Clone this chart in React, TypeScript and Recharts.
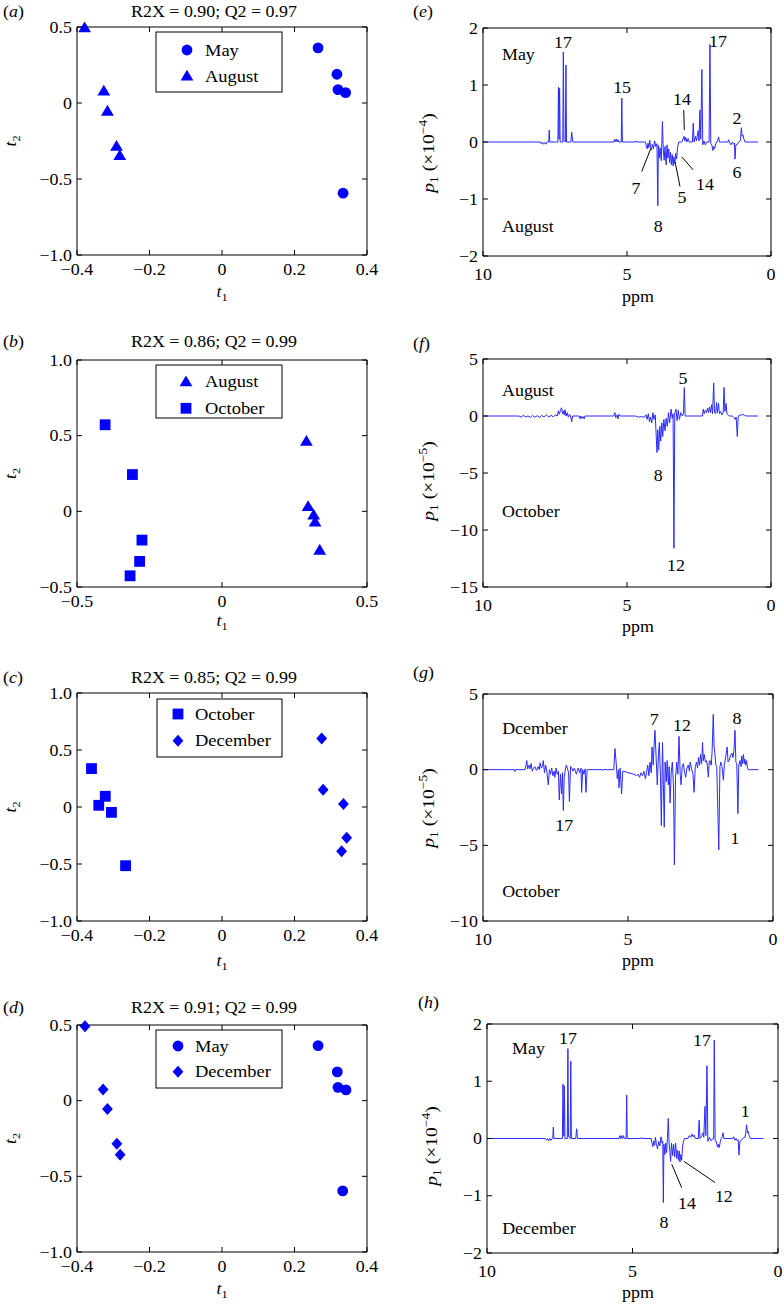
import React from "react";
import {
  ScatterChart,
  Scatter,
  LineChart,
  Line,
  XAxis,
  YAxis,
  ReferenceDot,
  ReferenceLine,
} from "recharts";

const FONT = "'Liberation Serif', 'Times New Roman', serif";
const BLUE = "#0000ff";
const TRACE = "#2a2aff";
const SX = 1.12; // the original lettering is a bit wider than plain Times

// ---- score plots (t1, t2) ----
const aMay = [
  { t1: 0.265, t2: 0.363 },
  { t1: 0.317, t2: 0.189 },
  { t1: 0.32, t2: 0.088 },
  { t1: 0.341, t2: 0.068 },
  { t1: 0.334, t2: -0.593 },
];
const aAugust = [
  { t1: -0.379, t2: 0.495 },
  { t1: -0.326, t2: 0.079 },
  { t1: -0.316, t2: -0.053 },
  { t1: -0.291, t2: -0.284 },
  { t1: -0.282, t2: -0.345 },
];
const bAugust = [
  { t1: 0.291, t2: 0.464 },
  { t1: 0.297, t2: 0.033 },
  { t1: 0.316, t2: -0.024 },
  { t1: 0.321, t2: -0.07 },
  { t1: 0.337, t2: -0.256 },
];
const bOctober = [
  { t1: -0.403, t2: 0.572 },
  { t1: -0.309, t2: 0.243 },
  { t1: -0.276, t2: -0.19 },
  { t1: -0.284, t2: -0.331 },
  { t1: -0.317, t2: -0.426 },
];
const cOctober = [
  { t1: -0.36, t2: 0.337 },
  { t1: -0.34, t2: 0.015 },
  { t1: -0.322, t2: 0.094 },
  { t1: -0.305, t2: -0.047 },
  { t1: -0.266, t2: -0.515 },
];
const cDecember = [
  { t1: 0.275, t2: 0.6 },
  { t1: 0.279, t2: 0.152 },
  { t1: 0.335, t2: 0.026 },
  { t1: 0.344, t2: -0.269 },
  { t1: 0.33, t2: -0.389 },
];
const dMay = [
  { t1: 0.265, t2: 0.364 },
  { t1: 0.318, t2: 0.19 },
  { t1: 0.32, t2: 0.088 },
  { t1: 0.342, t2: 0.071 },
  { t1: 0.333, t2: -0.596 },
];
const dDecember = [
  { t1: -0.378, t2: 0.492 },
  { t1: -0.328, t2: 0.073 },
  { t1: -0.316, t2: -0.055 },
  { t1: -0.29, t2: -0.285 },
  { t1: -0.281, t2: -0.358 },
];

const titles = [
  "R2X = 0.90; Q2 = 0.97",
  "R2X = 0.86; Q2 = 0.99",
  "R2X = 0.85; Q2 = 0.99",
  "R2X = 0.91; Q2 = 0.99",
];

// ---- loading spectra: [ppm, p1] ----
type Pt = [number, number];

const specE: Pt[] = [
  [10, 0], [8.02, 0], [7.98, -0.03], [7.94, 0], [7.9, -0.04], [7.86, -0.01], [7.82, -0.04], [7.78, 0],
  [7.72, 0], [7.7, 0.21], [7.68, 0],
  [7.4, 0], [7.38, 0.96], [7.36, 0.05], [7.34, 0.94], [7.32, 0],
  [7.23, 0], [7.21, 1.58], [7.19, 0.03], [7.14, 0], [7.12, 1.35], [7.1, 0],
  [6.95, 0], [6.92, 0.17], [6.88, 0],
  [5.46, 0], [5.43, 0.05], [5.4, 0], [5.37, 0.05], [5.34, 0], [5.31, 0.04], [5.28, 0],
  [5.2, 0], [5.18, 0.77], [5.16, 0],
  [4.7, 0], [4.68, 0.02], [4.66, 0],
  [4.36, 0], [4.33, -0.07], [4.3, -0.12], [4.27, -0.02], [4.24, -0.1], [4.21, 0.03], [4.18, -0.08],
  [4.15, -0.14], [4.12, -0.04], [4.08, -0.12], [4.04, 0.02], [4.0, -0.08], [3.96, -0.03],
  [3.93, -1.12], [3.91, -0.06], [3.88, -0.28], [3.85, -0.1], [3.81, -0.33], [3.77, 0.36], [3.74, -0.12],
  [3.71, -0.32], [3.68, -0.08], [3.64, -0.4], [3.61, -0.05], [3.58, -0.28], [3.55, -0.12], [3.52, -0.36],
  [3.49, -0.18], [3.46, -0.4], [3.43, -0.22], [3.4, -0.42], [3.37, -0.26], [3.34, -0.38], [3.31, -0.2],
  [3.28, -0.3], [3.24, -0.08], [3.2, 0],
  [3.1, 0], [3.07, 0.03], [3.02, 0.1], [2.99, 0.02], [2.96, 0.08], [2.92, 0], [2.88, 0.06], [2.84, 0],
  [2.73, 0], [2.7, 0.33], [2.67, 0], [2.62, 0.1], [2.59, 0.02], [2.53, 0.2], [2.5, 0.02], [2.47, 0.56],
  [2.44, 0.05], [2.4, 1.27], [2.37, -0.05], [2.33, 0.02], [2.28, -0.05], [2.24, 0], [2.15, 0],
  [2.12, 1.71], [2.09, -0.03], [2.05, -0.06], [2.02, -0.15], [1.99, -0.08], [1.96, -0.12], [1.92, -0.03],
  [1.88, 0], [1.85, 0.02], [1.82, 0.09], [1.79, 0],
  [1.5, 0], [1.47, 0.04], [1.43, -0.02], [1.39, -0.05], [1.34, 0], [1.3, -0.04], [1.27, -0.02],
  [1.25, -0.3], [1.22, -0.05], [1.17, -0.04], [1.12, 0], [1.06, 0.02], [1.03, 0.25], [1.0, 0.1],
  [0.97, 0.12], [0.94, 0.05], [0.9, 0], [0.45, 0],
];

const specF: Pt[] = [
  [10, 0], [8.75, 0], [8.68, -0.1], [8.6, 0.05], [8.52, -0.08], [8.44, 0], [8.36, -0.12], [8.28, 0.04],
  [8.2, -0.1], [8.12, 0.02], [8.04, -0.12], [7.96, 0.05], [7.88, -0.08], [7.8, 0.1], [7.72, -0.1],
  [7.64, 0.05], [7.56, -0.06], [7.48, 0.08], [7.42, 0],
  [7.38, 0.45], [7.35, 0.15], [7.31, 0.5], [7.27, 0.72], [7.24, 0.2], [7.21, 0.45], [7.18, 0.1],
  [7.15, 0.55], [7.12, 0], [7.08, 0.3], [7.04, -0.1], [7.0, 0.15], [6.96, 0], [6.92, -0.5], [6.89, 0],
  [6.66, 0], [6.63, -0.25], [6.6, 0], [6.56, -0.2], [6.52, -0.05], [6.49, -0.25], [6.46, 0],
  [5.46, 0], [5.42, 0.3], [5.39, -0.15], [5.35, 0.1], [5.31, -0.25], [5.28, 0.15], [5.24, 0],
  [4.7, 0], [4.6, -0.1], [4.5, -0.05], [4.4, -0.12], [4.34, 0.1], [4.3, -0.3], [4.26, 0.2], [4.22, -0.5],
  [4.18, -0.1], [4.14, -0.6], [4.1, 0.3], [4.06, -0.3], [4.02, 0.1],
  [3.99, -1.5], [3.96, -3.2], [3.93, -1.2], [3.9, -3.0], [3.86, -0.9], [3.83, -2.2], [3.79, -0.6],
  [3.76, -1.8], [3.72, -0.3], [3.68, -1.3], [3.64, -0.2], [3.6, -0.9], [3.56, 0.3], [3.52, -0.6],
  [3.47, 0.6], [3.43, -0.2], [3.4, 0.2],
  [3.37, -11.6], [3.34, 0.3], [3.3, 0.6], [3.26, -0.4], [3.22, 0.5], [3.18, -0.3], [3.13, 0.3], [3.08, 0],
  [3.04, 0.2], [3.01, 2.5], [2.98, 0],
  [2.38, 0], [2.35, 0.6], [2.32, 0.2], [2.28, 0.5], [2.24, 0.3], [2.2, 0.7], [2.17, 0.3], [2.13, 0.8],
  [2.1, 0.3], [2.06, 1.0], [2.03, 0.2], [1.99, 2.9], [1.96, 0.3], [1.92, 0.2], [1.89, 1.2], [1.86, 0.3],
  [1.82, 1.1], [1.79, 0.2], [1.75, 0.4], [1.7, 0.1], [1.66, 0.3], [1.63, 2.5], [1.6, 0.4], [1.56, 1.1],
  [1.53, 0.2], [1.49, 0.1], [1.45, 0],
  [1.35, 0], [1.3, -0.1], [1.25, -0.3], [1.21, -0.1], [1.17, -1.8], [1.14, -0.1], [1.1, 0.1],
  [1.05, 0.05], [0.98, 0.15], [0.92, 0.05], [0.86, 0], [0.45, 0],
];

const specG: Pt[] = [
  [10, 0], [9.2, 0], [8.92, 0], [8.9, -0.12], [8.88, 0], [8.55, 0], [8.49, 0.6], [8.46, 0.05],
  [8.42, 0.3], [8.38, 0.05], [8.34, 0.4], [8.3, -0.1], [8.26, 0.1], [8.21, 0.2], [8.16, -0.05],
  [8.1, 0.2], [8.06, 0], [8.03, 0.45], [7.99, 0.1], [7.95, 0.2], [7.92, 0.6], [7.88, -0.2], [7.84, 0.3],
  [7.8, -0.1], [7.75, -1.0], [7.71, 0], [7.67, -0.3], [7.63, 0.1], [7.59, -0.4], [7.55, -0.1],
  [7.52, -0.5], [7.48, 0.1], [7.44, -0.3], [7.4, -0.1], [7.37, -2.0], [7.33, -0.3], [7.29, -1.6],
  [7.26, -0.2], [7.23, -2.7], [7.2, -0.5], [7.17, -0.1], [7.13, 0.3], [7.09, 0.1], [7.05, -0.2],
  [7.02, -2.1], [6.98, 0.2], [6.94, 0.1], [6.9, -0.1], [6.85, 0.1], [6.78, -0.3], [6.72, 0.1],
  [6.66, -0.2], [6.62, 0.1], [6.6, -1.5], [6.56, 0], [6.52, -0.3], [6.48, 0.05], [6.45, -1.5],
  [6.41, 0], [6.37, 0],
  [5.9, 0], [5.88, -0.05], [5.86, 0], [5.49, 0],
  [5.45, 1.4], [5.41, 0.5], [5.37, -0.6], [5.33, 0], [5.31, -1.2], [5.27, 0.1], [5.22, -1.6], [5.18, -0.1],
  [5.14, -0.1], [5.0, -0.2], [4.9, -0.25], [4.8, -0.3], [4.7, -0.4], [4.65, -0.3], [4.6, -0.5],
  [4.55, -0.2], [4.5, -0.4], [4.45, -0.1], [4.4, -0.6], [4.36, -0.2], [4.32, 0.3], [4.28, -0.4],
  [4.24, 0.5], [4.2, -0.2], [4.17, 1.5], [4.13, 0.3], [4.1, 1.6], [4.07, 2.6], [4.03, 0.8], [3.99, -1.0],
  [3.95, 1.0], [3.92, 1.8], [3.88, -0.5], [3.85, -3.7], [3.81, 1.8], [3.78, -1.0], [3.75, -3.8],
  [3.72, 0.5], [3.68, -0.8], [3.65, 0.6], [3.61, -1.0], [3.58, 0.2], [3.55, -2.2], [3.51, -0.2],
  [3.47, 0.5], [3.43, -1.2], [3.4, -6.3], [3.36, -0.5], [3.32, 0.5], [3.28, -0.3], [3.24, 2.2],
  [3.2, -0.3], [3.17, -1.0], [3.13, 0.2], [3.09, 0.4], [3.05, -0.2], [3.01, -0.5], [2.97, 0.1],
  [2.92, 0.3], [2.88, -0.1], [2.86, 0.5], [2.82, 0.2], [2.8, 0], [2.76, -0.3], [2.72, -1.5], [2.68, 0.2],
  [2.64, 0.5], [2.6, 0.1], [2.57, 0.8], [2.53, 0.3], [2.5, 1.0], [2.46, 0.4], [2.43, 1.8], [2.4, 0.6],
  [2.37, 1.0], [2.33, 0.5], [2.29, 0.6], [2.26, 0.2], [2.23, -0.5], [2.2, 0.5], [2.17, 0.6], [2.13, 0.3],
  [2.1, 1.2], [2.06, 3.65], [2.03, 1.5], [2.0, 1.0], [1.97, 0.3], [1.94, 0.2], [1.87, -5.3], [1.83, 0.2],
  [1.8, 0.5], [1.76, 0.2], [1.71, -0.7], [1.68, 0.3], [1.66, 0.5], [1.62, 1.0], [1.58, 1.5], [1.55, 0.5],
  [1.51, 0.6], [1.47, 0.9], [1.42, 1.1], [1.38, 0.8], [1.35, 1.2], [1.31, 2.6], [1.28, 0.5], [1.25, 0.4],
  [1.21, -2.9], [1.18, 0.3], [1.14, 0.6], [1.1, 0.2], [1.08, 0.9], [1.05, 0.4], [1.02, 1.0], [0.99, 0.4],
  [0.97, 0.7], [0.94, 0.3], [0.91, 0.6], [0.88, 0.1], [0.85, 0], [0.5, 0],
];

const specH: Pt[] = [
  [10, 0], [8.0, 0], [7.96, -0.03], [7.92, 0], [7.88, -0.04], [7.84, 0], [7.8, -0.03], [7.76, 0],
  [7.74, 0], [7.72, 0.2], [7.7, 0],
  [7.41, 0], [7.39, 0.95], [7.36, 0.04], [7.34, 0.92], [7.32, 0],
  [7.24, 0], [7.22, 1.57], [7.2, 0.03], [7.14, 0], [7.12, 1.35], [7.1, 0],
  [6.95, 0], [6.92, 0.17], [6.89, 0],
  [5.46, 0], [5.43, 0.05], [5.4, 0], [5.37, 0.05], [5.34, 0], [5.31, 0.05], [5.28, 0],
  [5.22, 0], [5.2, 0.76], [5.18, 0],
  [4.71, 0], [4.69, 0.02], [4.67, 0],
  [4.36, 0], [4.33, -0.08], [4.3, -0.14], [4.27, -0.04], [4.24, -0.12], [4.21, 0.02], [4.18, -0.1],
  [4.14, -0.18], [4.1, -0.05], [4.06, -0.13], [4.02, 0.03], [3.98, -0.08],
  [3.96, -0.05], [3.94, -1.12], [3.92, -0.1], [3.89, -0.28], [3.86, -0.08], [3.83, -0.25], [3.8, 0.0],
  [3.77, 0.35], [3.74, -0.1], [3.72, -0.2], [3.69, -0.4], [3.66, -0.08], [3.62, -0.3], [3.59, -0.1],
  [3.55, -0.32], [3.52, -0.08], [3.48, -0.35], [3.45, -0.2], [3.42, -0.38], [3.39, -0.22], [3.37, -0.41],
  [3.34, -0.28], [3.31, -0.38], [3.28, -0.15], [3.25, -0.05], [3.21, 0],
  [3.1, 0], [3.05, 0.05], [3.0, 0.02], [2.96, 0.08], [2.92, 0.03], [2.88, 0.06], [2.84, 0],
  [2.74, 0], [2.71, 0.32], [2.68, 0], [2.62, 0.05], [2.58, 0.1], [2.55, 0.02], [2.51, 0.56], [2.48, 0.05],
  [2.44, 1.27], [2.41, -0.05], [2.36, 0.02], [2.3, -0.04], [2.24, 0], [2.21, 0],
  [2.19, 1.72], [2.16, -0.04], [2.12, -0.05], [2.08, -0.15], [2.05, -0.1], [2.02, -0.16], [1.98, -0.05],
  [1.95, 0], [1.92, 0.03], [1.89, 0.1], [1.86, 0],
  [1.55, 0], [1.52, 0.03], [1.48, -0.03], [1.44, 0], [1.4, -0.04], [1.37, -0.02], [1.34, -0.29],
  [1.31, -0.05], [1.27, -0.04], [1.22, 0], [1.14, 0.02], [1.11, 0.08], [1.08, 0.24], [1.05, 0.1],
  [1.02, 0.12], [0.99, 0.05], [0.95, 0], [0.5, 0],
];

// peak annotations
type Note = { ppm: number; v: number; text: string; start?: boolean };
const notesE: Note[] = [
  { ppm: 9.34, v: 1.53, text: "May", start: true },
  { ppm: 9.34, v: -1.49, text: "August", start: true },
  { ppm: 7.22, v: 1.74, text: "17" },
  { ppm: 5.17, v: 0.95, text: "15" },
  { ppm: 1.84, v: 1.77, text: "17" },
  { ppm: 3.09, v: 0.75, text: "14" },
  { ppm: 1.18, v: 0.42, text: "2" },
  { ppm: 4.69, v: -0.81, text: "7" },
  { ppm: 3.09, v: -0.98, text: "5" },
  { ppm: 2.29, v: -0.75, text: "14" },
  { ppm: 1.18, v: -0.54, text: "6" },
  { ppm: 3.92, v: -1.49, text: "8" },
];
const notesF: Note[] = [
  { ppm: 9.34, v: 2.25, text: "August", start: true },
  { ppm: 9.34, v: -8.4, text: "October", start: true },
  { ppm: 3.06, v: 3.3, text: "5" },
  { ppm: 3.92, v: -5.2, text: "8" },
  { ppm: 3.3, v: -13.1, text: "12" },
];
const notesG: Note[] = [
  { ppm: 9.34, v: 2.73, text: "Dcember", start: true },
  { ppm: 9.34, v: -8.04, text: "October", start: true },
  { ppm: 4.1, v: 3.32, text: "7" },
  { ppm: 3.14, v: 2.93, text: "12" },
  { ppm: 1.24, v: 3.39, text: "8" },
  { ppm: 7.2, v: -3.67, text: "17" },
  { ppm: 1.31, v: -4.54, text: "1" },
];
const notesH: Note[] = [
  { ppm: 9.14, v: 1.57, text: "May", start: true },
  { ppm: 9.48, v: -1.58, text: "December", start: true },
  { ppm: 7.22, v: 1.74, text: "17" },
  { ppm: 2.61, v: 1.71, text: "17" },
  { ppm: 1.13, v: 0.48, text: "1" },
  { ppm: 3.13, v: -1.14, text: "14" },
  { ppm: 1.86, v: -1.02, text: "12" },
  { ppm: 3.92, v: -1.47, text: "8" },
];

// leader lines: [ppm1, p1, ppm2, p2]
const leadE = [
  [3.03, 0.56, 3.01, 0.21],
  [4.49, -0.52, 4.17, -0.11],
  [3.16, -0.78, 3.33, -0.35],
  [2.7, -0.49, 3.1, -0.26],
];
const leadH = [
  [3.31, -0.86, 3.65, -0.45],
  [2.16, -0.77, 3.23, -0.4],
];

function fmt(v: number, dec: number) {
  if (v === 0) return "0";
  const s = Math.abs(v).toFixed(dec);
  return v < 0 ? "\u2212" + s : s;
}

function SText({ x, y, anchor = "middle", size = 16, children }: any) {
  return (
    <text
      transform={`translate(${x},${y}) scale(${SX},1)`}
      textAnchor={anchor}
      fontFamily={FONT}
      fontSize={size}
      fill="#000"
    >
      {children}
    </text>
  );
}

function Marker({ kind, cx, cy }: { kind: string; cx: number; cy: number }) {
  if (kind === "circle") return <circle cx={cx} cy={cy} r={5.4} fill={BLUE} />;
  if (kind === "triangle")
    return (
      <polygon
        points={`${cx},${cy - 6.2} ${cx + 6.4},${cy + 4.6} ${cx - 6.4},${cy + 4.6}`}
        fill={BLUE}
      />
    );
  if (kind === "square")
    return <rect x={cx - 5.4} y={cy - 5.4} width={10.8} height={10.8} fill={BLUE} />;
  return (
    <polygon
      points={`${cx},${cy - 6} ${cx + 5.4},${cy} ${cx},${cy + 6} ${cx - 5.4},${cy}`}
      fill={BLUE}
    />
  );
}

// ticks point inward, MATLAB style
function BottomTick(props: any) {
  const { x, y, payload, decimals, labelDy } = props;
  return (
    <g>
      <line x1={x} x2={x} y1={y} y2={y - 5} stroke="#000" />
      <SText x={x} y={y + labelDy}>{fmt(payload.value, decimals)}</SText>
    </g>
  );
}
function TopTick(props: any) {
  const { x, y } = props;
  return <line x1={x} x2={x} y1={y} y2={y + 5} stroke="#000" />;
}
function LeftTick(props: any) {
  const { x, y, payload, decimals } = props;
  return (
    <g>
      <line x1={x} x2={x + 5} y1={y} y2={y} stroke="#000" />
      <SText x={x - 5} y={y + 5.5} anchor="end">{fmt(payload.value, decimals)}</SText>
    </g>
  );
}
function RightTick(props: any) {
  const { x, y } = props;
  return <line x1={x} x2={x - 5} y1={y} y2={y} stroke="#000" />;
}

// axes are 1px thick (a 0px axis is not drawn), margins below are reduced by that 1px
const axisBase = {
  type: "number" as const,
  tickSize: 0,
  tickMargin: 0,
  tickLine: false,
  interval: 0 as const,
  axisLine: { stroke: "#000" },
};

const leftPanels = [
  {
    id: "a", top: 0, mt: 27, mb: 65, title: titles[0], titleY: 16.7, t1Y: 297,
    xDomain: [-0.4, 0.4], xTicks: [-0.4, -0.2, 0, 0.2, 0.4],
    yDomain: [-1, 0.5], yTicks: [-1, -0.5, 0, 0.5],
    series: [
      { name: "May", kind: "circle", data: aMay },
      { name: "August", kind: "triangle", data: aAugust },
    ],
    legend: { x: 156, y: 32, w: 126, h: 60, r1: 18, r2: 44, mx: 31, tx: 49 },
  },
  {
    id: "b", top: 320, mt: 40, mb: 53, title: titles[1], titleY: 346.7, t1Y: 626,
    xDomain: [-0.5, 0.5], xTicks: [-0.5, 0, 0.5],
    yDomain: [-0.5, 1], yTicks: [-0.5, 0, 0.5, 1],
    series: [
      { name: "August", kind: "triangle", data: bAugust },
      { name: "October", kind: "square", data: bOctober },
    ],
    legend: { x: 156, y: 365, w: 126, h: 53, r1: 16.7, r2: 43.3, mx: 30, tx: 49 },
  },
  {
    id: "c", top: 650, mt: 43, mb: 49, title: titles[2], titleY: 682.7, t1Y: 966,
    xDomain: [-0.4, 0.4], xTicks: [-0.4, -0.2, 0, 0.2, 0.4],
    yDomain: [-1, 1], yTicks: [-1, -0.5, 0, 0.5, 1],
    series: [
      { name: "October", kind: "square", data: cOctober },
      { name: "December", kind: "diamond", data: cDecember },
    ],
    legend: { x: 157, y: 699, w: 125, h: 58, r1: 15, r2: 41.7, mx: 21, tx: 38 },
  },
  {
    id: "d", top: 986, mt: 39, mb: 54, title: titles[3], titleY: 1012.7, t1Y: 1294,
    xDomain: [-0.4, 0.4], xTicks: [-0.4, -0.2, 0, 0.2, 0.4],
    yDomain: [-1, 0.5], yTicks: [-1, -0.5, 0, 0.5],
    series: [
      { name: "May", kind: "circle", data: dMay },
      { name: "December", kind: "diamond", data: dDecember },
    ],
    legend: { x: 156, y: 1030, w: 126, h: 58, r1: 16, r2: 41.7, mx: 22, tx: 39 },
  },
];

const rightPanels = [
  {
    id: "e", top: 0, ml: 91, mr: 13, mt: 28, mb: 64, yDomain: [-2, 2], yTicks: [-2, -1, 0, 1, 2],
    data: specE, notes: notesE, leaders: leadE, exp: "\u22124",
    letterX: 413, letterY: 17, ppmY: 301.5, pX: 434, pY: 153,
  },
  {
    id: "f", top: 320, ml: 91, mr: 13, mt: 39, mb: 53, yDomain: [-15, 5], yTicks: [-15, -10, -5, 0, 5],
    data: specF, notes: notesF, leaders: [], exp: "\u22125",
    letterX: 413, letterY: 349, ppmY: 631.5, pX: 434, pY: 481,
  },
  {
    id: "g", top: 650, ml: 91, mr: 11, mt: 44, mb: 49, yDomain: [-10, 5], yTicks: [-10, -5, 0, 5],
    data: specG, notes: notesG, leaders: [], exp: "\u22125",
    letterX: 413, letterY: 678, ppmY: 966, pX: 434, pY: 808,
  },
  {
    id: "h", top: 986, ml: 95, mr: 6, mt: 38, mb: 53, yDomain: [-2, 2], yTicks: [-2, -1, 0, 1, 2],
    data: specH, notes: notesH, leaders: leadH, exp: "\u22124",
    letterX: 418, letterY: 1008, ppmY: 1298, pX: 437, pY: 1146,
  },
];

function ScorePanel({ p }: { p: (typeof leftPanels)[number] }) {
  const dec = 1;
  return (
    <div style={{ position: "absolute", left: 0, top: p.top }}>
      <ScatterChart width={392} height={320}
        margin={{ top: p.mt - 1, bottom: p.mb - 1, left: 76, right: 24 }}>
        <XAxis {...axisBase} xAxisId="b" dataKey="t1" domain={p.xDomain} ticks={p.xTicks} height={1}
          tick={<BottomTick decimals={dec} labelDy={20} />} />
        <XAxis {...axisBase} xAxisId="t" orientation="top" dataKey="t1" domain={p.xDomain} ticks={p.xTicks}
          height={1} allowDataOverflow tick={<TopTick />} />
        <YAxis {...axisBase} yAxisId="l" dataKey="t2" domain={p.yDomain} ticks={p.yTicks} width={1}
          tick={<LeftTick decimals={dec} />} />
        <YAxis {...axisBase} yAxisId="r" orientation="right" dataKey="t2" domain={p.yDomain} ticks={p.yTicks}
          width={1} allowDataOverflow tick={<RightTick />} />
        {p.series.map((s) => (
          <Scatter
            key={s.name}
            name={s.name}
            xAxisId="b"
            yAxisId="l"
            data={s.data}
            isAnimationActive={false}
            shape={(sp: any) => <Marker kind={s.kind} cx={sp.cx} cy={sp.cy} />}
          />
        ))}
      </ScatterChart>
    </div>
  );
}

function LoadingPanel({ p }: { p: (typeof rightPanels)[number] }) {
  const rows = p.data.map(([ppm, v]) => ({ ppm, v }));
  return (
    <div style={{ position: "absolute", left: 392, top: p.top }}>
      <LineChart width={392} height={320} data={rows}
        margin={{ top: p.mt - 1, bottom: p.mb - 1, left: p.ml - 1, right: p.mr - 1 }}>
        <XAxis {...axisBase} xAxisId="b" dataKey="ppm" domain={[0, 10]} ticks={[0, 5, 10]} reversed
          height={1} tick={<BottomTick decimals={0} labelDy={23.5} />} />
        <XAxis {...axisBase} xAxisId="t" orientation="top" dataKey="ppm" domain={[0, 10]} ticks={[0, 5, 10]}
          reversed height={1} allowDataOverflow tick={<TopTick />} />
        <YAxis {...axisBase} yAxisId="l" dataKey="v" domain={p.yDomain} ticks={p.yTicks} width={1}
          tick={<LeftTick decimals={0} />} />
        <YAxis {...axisBase} yAxisId="r" orientation="right" dataKey="v" domain={p.yDomain} ticks={p.yTicks}
          width={1} allowDataOverflow tick={<RightTick />} />
        <Line xAxisId="b" yAxisId="l" dataKey="v" stroke={TRACE} strokeWidth={1} dot={false}
          isAnimationActive={false} />
        {p.leaders.map((l, i) => (
          <ReferenceLine key={"l" + i} xAxisId="b" yAxisId="l" stroke="#000" strokeWidth={1}
            segment={[{ x: l[0], y: l[1] }, { x: l[2], y: l[3] }]} />
        ))}
        {p.notes.map((n, i) => (
          <ReferenceDot key={"n" + i} xAxisId="b" yAxisId="l" x={n.ppm} y={n.v} r={0}
            shape={(sp: any) => (
              <SText x={sp.cx} y={sp.cy + 5.5} anchor={n.start ? "start" : "middle"}>{n.text}</SText>
            )} />
        ))}
      </LineChart>
    </div>
  );
}

export default function App() {
  return (
    <div style={{ position: "absolute", left: 0, top: 0, width: 784, height: 1306, background: "#fff", overflow: "hidden" }}>
      {leftPanels.map((p) => <ScorePanel key={p.id} p={p} />)}
      {rightPanels.map((p) => <LoadingPanel key={p.id} p={p} />)}
      <svg width={784} height={1306} style={{ position: "absolute", left: 0, top: 0, pointerEvents: "none" }}>
        {leftPanels.map((p) => {
          const plotMid = p.top + p.mt + (320 - p.mt - p.mb) / 2;
          const lg = p.legend;
          return (
            <g key={p.id}>
              <SText x={3} y={p.titleY} anchor="start">
                (<tspan fontStyle="italic">{p.id}</tspan>)
              </SText>
              <SText x={214} y={p.titleY}>{p.title}</SText>
              <SText x={222} y={p.t1Y}>
                <tspan fontStyle="italic">t</tspan>
                <tspan fontSize={11} dy={4}>1</tspan>
              </SText>
              <text transform={`translate(16,${plotMid}) rotate(-90) scale(${SX},1)`} textAnchor="middle"
                fontFamily={FONT} fontSize={16}>
                <tspan fontStyle="italic">t</tspan>
                <tspan fontSize={11} dy={4}>2</tspan>
              </text>
              <rect x={lg.x} y={lg.y} width={lg.w} height={lg.h} fill="#fff" stroke="#000" strokeWidth={1} />
              {p.series.map((s, i) => {
                const ry = lg.y + (i === 0 ? lg.r1 : lg.r2);
                return (
                  <g key={s.name}>
                    <Marker kind={s.kind} cx={lg.x + lg.mx} cy={ry} />
                    <SText x={lg.x + lg.tx} y={ry + 5.5} anchor="start" size={16.5}>{s.name}</SText>
                  </g>
                );
              })}
            </g>
          );
        })}
        {rightPanels.map((p) => (
          <g key={p.id}>
            <SText x={p.letterX} y={p.letterY} anchor="start">
              (<tspan fontStyle="italic">{p.id}</tspan>)
            </SText>
            <SText x={638} y={p.ppmY}>ppm</SText>
            <text transform={`translate(${p.pX},${p.pY}) rotate(-90) scale(${SX},1)`} textAnchor="middle"
              fontFamily={FONT} fontSize={17.5}>
              <tspan fontStyle="italic">p</tspan>
              <tspan fontSize={12} dy={4}>1</tspan>
              <tspan dy={-4}>{" (\u00d710"}</tspan>
              <tspan fontSize={12} dy={-7}>{p.exp}</tspan>
              <tspan dy={7}>)</tspan>
            </text>
          </g>
        ))}
      </svg>
    </div>
  );
}
